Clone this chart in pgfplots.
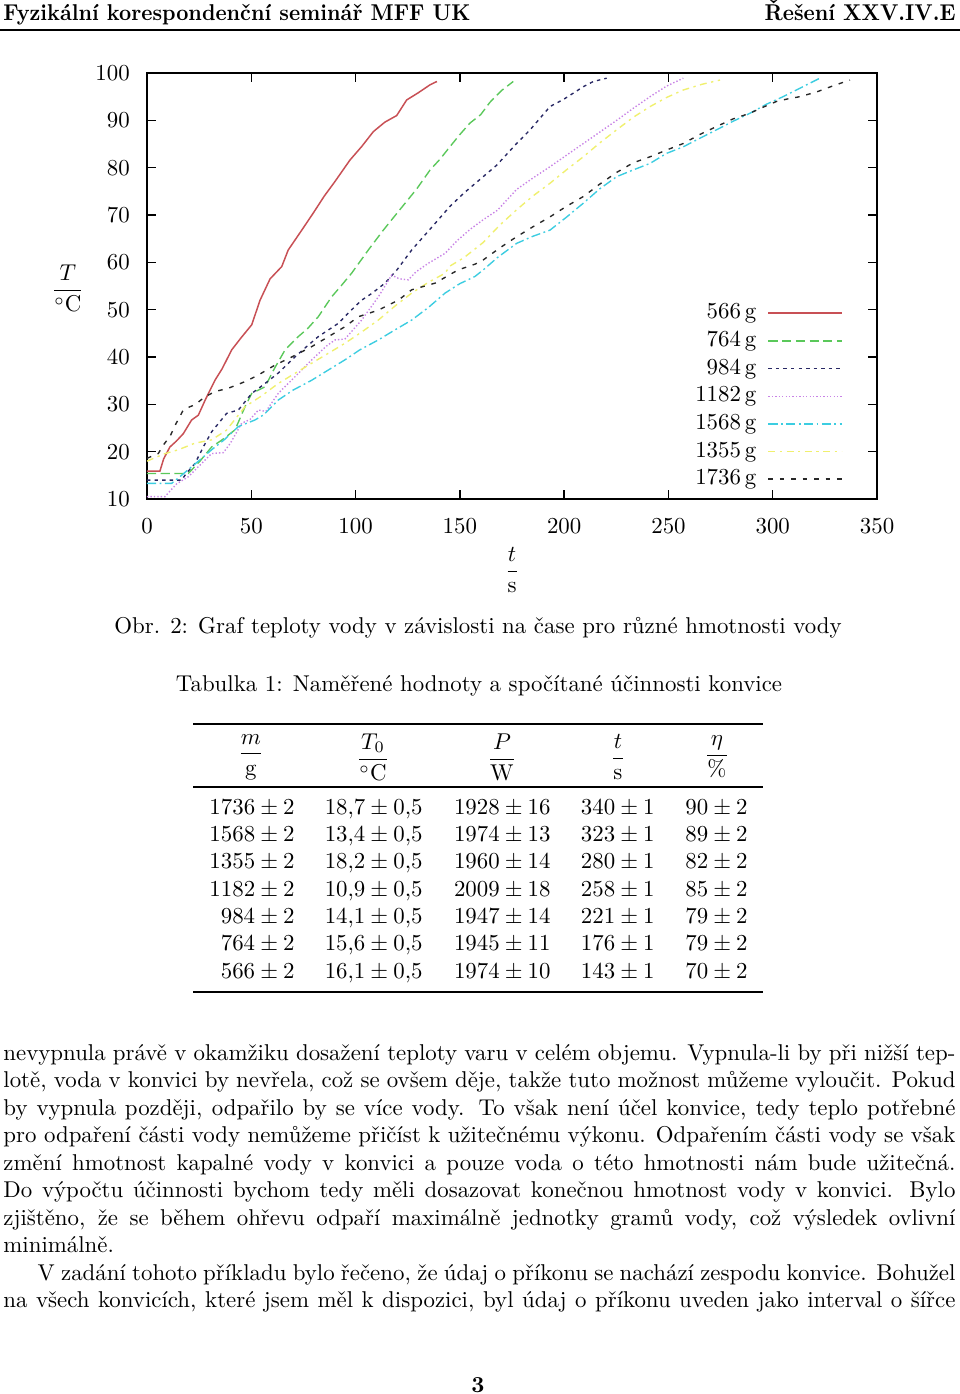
\documentclass[border=0pt]{standalone}
\usepackage{amsmath}
\usepackage{graphicx}
\usepackage{pgfplots}
\pgfplotsset{compat=1.18}

\definecolor{c566}{RGB}{200,80,85}
\definecolor{c764}{RGB}{90,200,90}
\definecolor{c984}{RGB}{40,40,100}
\definecolor{c1182}{RGB}{200,130,230}
\definecolor{c1568}{RGB}{60,205,225}
\definecolor{c1355}{RGB}{240,240,110}
\definecolor{c1736}{RGB}{40,40,40}

\begin{document}
\begin{tikzpicture}[x=0.4375pt,y=-0.4375pt]
\fill[white] (0,0) rectangle (960,1394);
\path[use as bounding box] (0,0) rectangle (960,1394);

% hlavicka
\node[anchor=base west,inner sep=0pt,font=\bfseries] at (3,20) {\scalebox{0.926}[1]{Fyzikální korespondenční seminář MFF UK}};
\node[anchor=base east,inner sep=0pt,font=\bfseries] at (956,20) {\scalebox{0.926}[1]{Řešení XXV.IV.E}};
\draw[line width=0.9pt] (0,30) -- (960,30);

% graf: levy dolni roh osy na pixelu (147,499)
\begin{axis}[
  at={(64.3125pt,-218.3125pt)}, anchor=south west,
  scale only axis, width=319.4pt, height=186.4pt,
  xmin=0, xmax=350, ymin=10, ymax=100,
  xtick={0,50,...,350}, ytick={10,20,...,100},
  tick align=inside, major tick length=4pt,
  axis line style={line width=0.8pt},
  tick style={line width=0.6pt,black},
  xticklabel style={yshift=-5pt},
  yticklabel style={xshift=-4pt},
  xlabel={$\dfrac{t}{\mathrm{s}}$},
  xlabel style={at={(rel axis cs:0.5,0)},anchor=center,yshift=-31pt},
  ylabel={$\dfrac{T}{^\circ\mathrm{C}}$},
  ylabel style={at={(rel axis cs:0,0.5)},anchor=center,rotate=-90,xshift=-34.6pt,yshift=-1pt},
  legend style={draw=none,fill=none,at={(rel axis cs:0.953,0.016)},anchor=south east,
    inner sep=0pt,row sep=1.1pt,column sep=4pt,
    nodes={inner sep=1pt,text height=7pt,text depth=2pt}},
  legend cell align=right, legend plot pos=right,
  legend image code/.code={\draw[#1] (0pt,0pt) -- (32pt,0pt);},
  every axis plot/.append style={line width=0.6pt},
]
\addplot[c566,solid,line width=0.65pt] coordinates {(0,15.9) (6.2,15.9) (8,18.5) (11,21) (14,22.2) (17.4,23.8) (21.4,26.7) (24.6,27.7) (28,31) (32.6,35.1) (36,37.5) (40.6,41.5) (45,44) (50.2,46.8) (54.2,52) (59,56.5) (64.6,59.1) (67.7,62.6) (74.2,66.8) (79.7,70.4) (85,74) (90,77) (97.3,81.6) (103,84.5) (108.5,87.6) (114,89.6) (119.7,91) (124.5,94.3) (130,95.8) (135.7,97.5) (139,98.2)};
\addlegendentry{566\,g}
\addplot[c764,dash pattern=on 4pt off 2pt] coordinates {(0,15.4) (19.8,15.4) (25.4,18) (31,21) (36,22.5) (42.2,24.6) (47,29.5) (50.2,32.3) (56.6,33.7) (61,37.5) (66.2,41.5) (72.5,44.3) (77,46) (82.1,48.5) (88.5,52.7) (93,55) (98.1,57.7) (106.1,62.6) (113.3,66.8) (121,71) (129.3,75.5) (135.7,79.5) (140.5,81.8) (145.2,84.4) (150,87) (154.8,89.4) (160,91.2) (164.4,93.8) (170,96.3) (175.6,98.2)};
\addlegendentry{764\,g}
\addplot[c984,dash pattern=on 1.5pt off 1.8pt] coordinates {(0,14) (16.6,14) (19,15.5) (23,17.5) (27,21) (31,24.2) (38.2,28.1) (43.8,28.8) (50.2,32.3) (56,34.2) (62.9,36.6) (70.9,40) (76,42) (82.1,44.3) (91.7,47.1) (97,49.5) (102.9,52) (108,53.5) (114.1,55.6) (120,58.5) (126.9,62.6) (135.7,67) (145.2,71.8) (151.6,74.5) (161.2,78.1) (167.6,80.5) (177.2,85.1) (183.7,88) (193.2,92.9) (200,94.5) (209.2,97.1) (214,98.2) (220.4,98.9)};
\addlegendentry{984\,g}
\addplot[c1182,dash pattern=on 0.6pt off 0.9pt] coordinates {(0,10.5) (8.6,10.5) (14.2,13.2) (19.8,14.7) (25,17) (31,19.6) (36.6,19.8) (40,21.8) (45.4,26) (49.4,26.8) (53.4,28.8) (57,28.5) (62.9,32.3) (70.9,35.8) (79,39.4) (86,42.3) (90.1,43.6) (94.9,43.8) (102.9,47.8) (110.9,52.7) (117.3,57.3) (121,56.5) (125.3,56.3) (129,58) (134.9,59.8) (142.9,61.9) (148.5,64.5) (155,67) (161.2,69) (168,71) (177.2,75.4) (185,77.8) (193.2,80.2) (209.2,85.1) (225.2,90) (233,92.5) (241.2,95) (249,97.2) (257.1,98.9)};
\addlegendentry{1182\,g}
\addplot[c1568,dash pattern=on 4pt off 1.5pt on 0.8pt off 1.5pt] coordinates {(0,13.3) (11.8,13.3) (16,14.8) (21.4,16.8) (26,18.5) (31,20.4) (37,22.5) (43.8,25.3) (51.8,26.7) (56,27.8) (62.9,30.9) (70,33) (79,35.1) (86,37) (94.9,39.4) (102,41.5) (110.9,43.6) (118,45.5) (126.9,47.8) (135,50.5) (142.9,53.5) (150,55.5) (157.2,57) (161.2,58.4) (168,61) (177.2,64) (185,65.5) (193.2,66.8) (201,69.5) (209.2,72.5) (217,75.5) (225.2,78.1) (233,79.5) (241.2,80.9) (249,83) (257.1,84.4) (265,86.2) (273.1,88) (281,89.8) (289.1,91.5) (297,93.4) (305,95) (314,97) (322.6,98.9)};
\addlegendentry{1568\,g}
\addplot[c1355,dash pattern=on 3pt off 2pt on 1pt off 2pt] coordinates {(0,18) (8,19.5) (15,20.4) (23,21.8) (31,22.5) (38,24.5) (47,29.5) (55,31.8) (62.9,34.4) (70,36.3) (79,38.7) (87,40.8) (94.9,42.9) (103,45.3) (110.9,47.8) (119,50.8) (126.9,53.5) (135,55.8) (142.9,57.7) (145.2,59.2) (152,61) (161.2,64.2) (169,67.8) (177.2,71.1) (185,74) (193.2,76.7) (201,79.5) (209.2,82.3) (217,85.2) (225.2,88) (233,90.6) (241.2,92.9) (249,94.8) (257.1,96.4) (266,97.6) (274.7,98.5)};
\addlegendentry{1355\,g}
\addplot[c1736,dash pattern=on 2pt off 3pt] coordinates {(0,18.6) (5.4,19.6) (8,21.5) (11,23.2) (14,26) (17.4,28.8) (20.6,29.5) (23,29.9) (27.8,31.6) (32.6,32.7) (39,33.4) (47,34.8) (53.4,36.2) (61.4,38.3) (69.4,40) (79,42.2) (87,44.3) (94.9,46.4) (101.3,48.5) (110.9,49.9) (120.5,52) (126.9,54.2) (138.1,55.6) (145.2,57.4) (149.2,58.4) (157.2,59.6) (161.2,60.5) (169,63) (177.2,65.4) (185,67.5) (193.2,69.6) (201,71.8) (209.2,73.9) (217,76.5) (225.2,79) (233,81) (241.2,82.3) (249,83.7) (257.1,85.1) (265,87) (273.1,88.7) (281,90.3) (289.1,91.5) (295,92.7) (301.9,94) (307,94.5) (313.1,95) (321.1,96) (329,97.3) (337,98.5)};
\addlegendentry{1736\,g}
\end{axis}

\node[anchor=base,inner sep=0pt] at (478,633) {Obr. 2: Graf teploty vody v závislosti na čase pro různé hmotnosti vody};
\node[anchor=base,inner sep=0pt] at (479,691) {Tabulka 1: Naměřené hodnoty a spočítané účinnosti konvice};

% tabulka
\draw[line width=0.8pt] (193,724) -- (763,724);
\draw[line width=0.45pt] (193,787) -- (763,787);
\draw[line width=0.8pt] (193,992) -- (763,992);
\node at (251,757) {$\dfrac{m}{\mathrm{g}}$};
\node at (373,757) {$\dfrac{T_0}{^\circ\mathrm{C}}$};
\node at (502,757) {$\dfrac{P}{\mathrm{W}}$};
\node at (618,757) {$\dfrac{t}{\mathrm{s}}$};
\node at (717,757) {$\dfrac{\eta}{\%}$};
\foreach \y/\a/\b/\c/\d/\e in {
  814/1736/18{,}7/1928\pm16/340/90,
  841/1568/13{,}4/1974\pm13/323/89,
  868/1355/18{,}2/1960\pm14/280/82,
  896/1182/10{,}9/2009\pm18/258/85,
  923/984/14{,}1/1947\pm14/221/79,
  950/764/15{,}6/1945\pm11/176/79,
  978/566/16{,}1/1974\pm10/143/70}{
  \node[anchor=base east,inner sep=0pt] at (295,\y) {$\a\pm2$};
  \node[anchor=base east,inner sep=0pt] at (423,\y) {$\b\pm0{,}5$};
  \node[anchor=base east,inner sep=0pt] at (551,\y) {$\c$};
  \node[anchor=base east,inner sep=0pt] at (655,\y) {$\d\pm1$};
  \node[anchor=base east,inner sep=0pt] at (748,\y) {$\e\pm2$};
}

% text
\begin{scope}[every node/.style={anchor=base west,inner sep=0pt}]
\node at (3,1060) {\makebox[416.5pt][s]{nevypnula právě v okamžiku dosažení teploty varu v celém objemu. Vypnula-li by při nižší tep-}};
\node at (3,1087) {\makebox[416.5pt][s]{lotě, voda v konvici by nevřela, což se ovšem děje, takže tuto možnost můžeme vyloučit. Pokud}};
\node at (3,1115) {\makebox[416.5pt][s]{by vypnula později, odpařilo by se více vody. To však není účel konvice, tedy teplo potřebné}};
\node at (3,1142) {\makebox[416.5pt][s]{pro odpaření části vody nemůžeme přičíst k užitečnému výkonu. Odpařením části vody se však}};
\node at (3,1170) {\makebox[416.5pt][s]{změní hmotnost kapalné vody v konvici a pouze voda o této hmotnosti nám bude užitečná.}};
\node at (3,1197) {\makebox[416.5pt][s]{Do výpočtu účinnosti bychom tedy měli dosazovat konečnou hmotnost vody v konvici. Bylo}};
\node at (3,1225) {\makebox[416.5pt][s]{zjištěno, že se během ohřevu odpaří maximálně jednotky gramů vody, což výsledek ovlivní}};
\node at (3,1252) {minimálně.};
\node at (3,1280) {\makebox[416.5pt][s]{\hspace*{15pt}V zadání tohoto příkladu bylo řečeno, že údaj o příkonu se nachází zespodu konvice. Bohužel}};
\node at (3,1307) {\makebox[416.5pt][s]{na všech konvicích, které jsem měl k dispozici, byl údaj o příkonu uveden jako interval o šířce}};
\end{scope}
\node[anchor=base,inner sep=0pt,font=\bfseries] at (478,1392) {3};
\end{tikzpicture}
\end{document}
